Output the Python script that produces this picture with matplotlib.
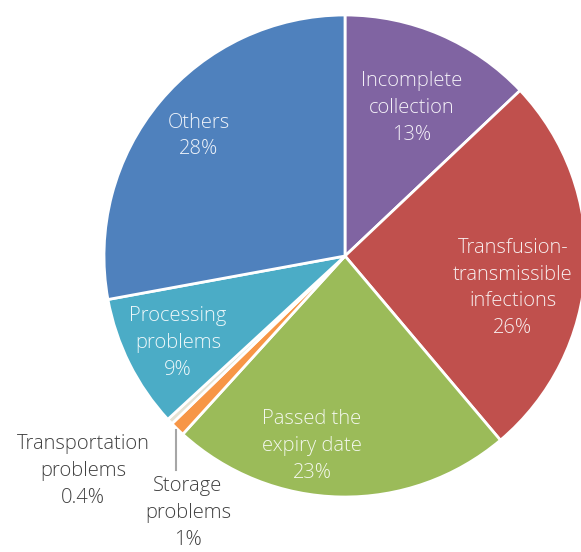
import matplotlib
matplotlib.use("Agg")
import matplotlib.pyplot as plt

# slices, clockwise from 12 o'clock
labels = ["Incomplete\ncollection", "Transfusion-\ntransmissible\ninfections",
          "Passed the\nexpiry date", "Storage\nproblems", "Transportation\nproblems",
          "Processing\nproblems", "Others"]
percent = [13, 26, 23, 1, 0.4, 9, 28]
pct_text = ["13%", "26%", "23%", "1%", "0.4%", "9%", "28%"]
colors = ["#8064A2", "#C0504D", "#9BBB59", "#F79646", "#E6E2D3", "#4BACC6", "#4F81BD"]

# label centres in pixels of the 581x552 picture
label_px = [(412, 108), (513, 288), (312, 446), (188, 513), (83, 471), (178, 343), (199, 136)]
label_col = ["#F4F1F8", "#F8EEEE", "#F4F8EE", "#404040", "#404040", "#EEF8FA", "#EEF3FA"]

W, H = 581, 552
cx, cy, R = 345, 256, 241

plt.rcParams["font.family"] = ["Open Sans", "DejaVu Sans"]
fig = plt.figure(figsize=(W / 100, H / 100), dpi=100)
ax = fig.add_axes([(cx - R) / W, (H - cy - R) / H, 2 * R / W, 2 * R / H])

ax.pie(percent, colors=colors, startangle=90, counterclock=False, radius=1,
       wedgeprops=dict(edgecolor="white", linewidth=2))
ax.set_xlim(-1, 1)
ax.set_ylim(-1, 1)
ax.set_aspect("equal")
ax.axis("off")


def to_data(px, py):
    return (px - cx) / R, (cy - py) / R


for lab, pct, (px, py), col in zip(labels, pct_text, label_px, label_col):
    x, y = to_data(px, py)
    ax.text(x, y, lab + "\n" + pct, ha="center", va="center", color=col,
            fontsize=14.5, fontweight="light", linespacing=1.45, clip_on=False)

# leader line for storage problems
x0, y0 = to_data(176, 430)
x1, y1 = to_data(176, 470)
ax.plot([x0, x1], [y0, y1], color="#A6A6A6", linewidth=1.5, clip_on=False)

fig.savefig("out.png", dpi=100)
